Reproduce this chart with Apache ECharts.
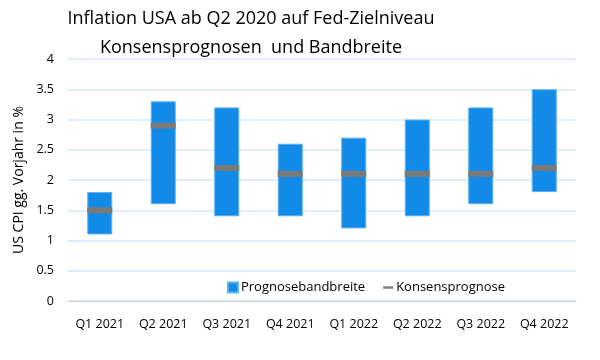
<!DOCTYPE html>
<html><head><meta charset="utf-8">
<script src="https://cdn.jsdelivr.net/npm/echarts@6/dist/echarts.min.js"></script>
<style>html,body{margin:0;padding:0;background:#fff}#c{width:600px;height:360px}</style>
</head><body><div id="c"></div>
<script>
const categories = ['Q1 2021','Q2 2021','Q3 2021','Q4 2021','Q1 2022','Q2 2022','Q3 2022','Q4 2022'];
const lowValues = [1.1, 1.6, 1.4, 1.4, 1.2, 1.4, 1.6, 1.8];
const highValues = [1.8, 3.3, 3.2, 2.6, 2.7, 3.0, 3.2, 3.5];
const consensus = [1.5, 2.9, 2.2, 2.1, 2.1, 2.1, 2.1, 2.2];
const yTicks = [0, 0.5, 1, 1.5, 2, 2.5, 3, 3.5, 4];

const rangeValues = highValues.map((h, i) => +(h - lowValues[i]).toFixed(2));
const font = '"Open Sans", "Noto Sans", sans-serif';

const chart = echarts.init(document.getElementById('c'), null, {renderer: 'canvas'});
chart.setOption({
  animation: false,
  textStyle: {fontFamily: font},
  title: {
    text: 'Inflation USA ab Q2 2020 auf Fed-Zielniveau\nKonsensprognosen  und Bandbreite',
    left: 246, textAlign: 'center', top: -1,
    textStyle: {fontSize: 18, fontWeight: 'normal', color: '#000', lineHeight: 29, fontFamily: font}
  },
  legend: {
    right: 90, top: 276, itemGap: 18, itemWidth: 10, itemHeight: 10,
    textStyle: {fontSize: 13, color: '#000', fontFamily: font, padding: [0, 0, 0, -2]},
    data: [
      {name: 'Prognosebandbreite', icon: 'rect'},
      {name: 'Konsensprognose', icon: 'path://M0,4 L10,4 L10,6.5 L0,6.5 Z', itemStyle: {color: '#7f7f7f'}}
    ]
  },
  grid: {left: 68, right: 24, top: 59, bottom: 59},
  xAxis: {
    type: 'category', data: categories,
    axisLine: {lineStyle: {color: '#d0d0d0', width: 1}},
    axisTick: {show: false},
    axisLabel: {fontSize: 12.5, color: '#000', margin: 17, fontFamily: font}
  },
  yAxis: {
    type: 'value', min: yTicks[0], max: yTicks[yTicks.length-1], interval: 0.5,
    name: 'US CPI gg. Vorjahr in %', nameLocation: 'middle', nameGap: 34,
    nameTextStyle: {fontSize: 14, color: '#000', fontFamily: font},
    axisLine: {show: false}, axisTick: {show: false},
    axisLabel: {fontSize: 12.5, color: '#000', margin: 14, fontFamily: font},
    splitLine: {lineStyle: {color: '#d5e8f8', width: 1.5}}
  },
  series: [
    {
      name: 'base', type: 'bar', stack: 'r', data: lowValues, barWidth: 25,
      itemStyle: {color: 'transparent'}, silent: true
    },
    {
      name: 'Prognosebandbreite', type: 'bar', stack: 'r', data: rangeValues, barWidth: 25,
      itemStyle: {color: '#128ae8', borderColor: '#5db0f0', borderWidth: 1}
    },
    {
      name: 'Konsensprognose', type: 'scatter', data: consensus,
      symbol: 'rect', symbolSize: [25, 6], z: 5,
      itemStyle: {color: '#7a7a7a', opacity: 1}
    }
  ]
});
</script></body></html>
